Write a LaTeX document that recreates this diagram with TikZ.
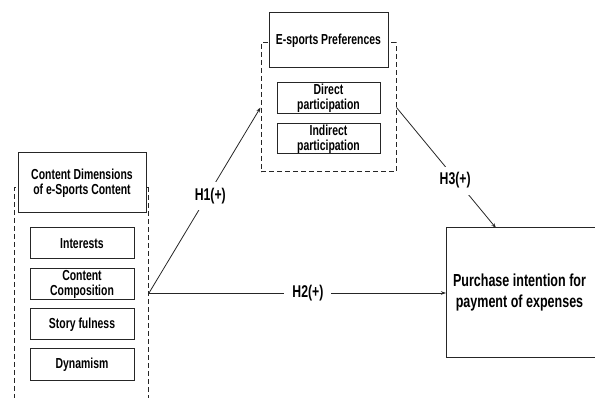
\documentclass[tikz,border=0pt]{standalone}
\usepackage{fontspec}
\setmainfont{Liberation Sans}[FakeStretch=0.72]
\usetikzlibrary{arrows.meta}
\begin{document}
\begin{tikzpicture}[x=1pt,y=-1pt,
  every node/.style={font=\bfseries},
  box/.style={draw=black!85,line width=1pt,fill=white,align=center,inner sep=0pt,
    font=\fontsize{14.5}{15}\selectfont\bfseries},
  group/.style={draw=black!85,line width=1pt,dash pattern=on 5pt off 3pt,inner sep=0pt},
  conn/.style={draw=black!85,line width=0.8pt,-{Stealth[length=5pt,width=3.5pt]}},
  hlab/.style={fill=white,inner xsep=8pt,inner ysep=6pt,font=\fontsize{17}{19}\selectfont\bfseries}]
\useasboundingbox (0,0) rectangle (595,398);
% left group
\node[group,minimum width=134pt,minimum height=230pt] (lgroup) at (81,303) {};
\node[box,minimum width=128pt,minimum height=60pt] (ltitle) at (82,183) {Content Dimensions\\of e-Sports Content};
\node[box,minimum width=104pt,minimum height=31pt] (interests) at (82,243.5) {Interests};
\node[box,minimum width=104pt,minimum height=31pt] (composition) at (82,284.5) {Content\\Composition};
\node[box,minimum width=104pt,minimum height=31pt] (story) at (82,324.5) {Story fulness};
\node[box,minimum width=104pt,minimum height=31pt] (dynamism) at (82,364.5) {Dynamism};
% top group
\node[group,minimum width=135pt,minimum height=129pt] (tgroup) at (328.5,107.5) {};
\node[box,minimum width=119pt,minimum height=55pt] (ttitle) at (328.5,40.5) {E-sports Preferences};
\node[box,minimum width=103pt,minimum height=31pt] (direct) at (328.5,98.5) {Direct\\participation};
\node[box,minimum width=103pt,minimum height=30pt] (indirect) at (328.5,139) {Indirect\\participation};
% outcome
\node[box,minimum width=160pt,minimum height=130pt,anchor=west] (purchase) at (446,293) {};
\node[align=center,inner sep=0pt,font=\fontsize{17.4}{21}\selectfont\bfseries] (ptext) at (519.5,293)
  {Purchase intention for\\payment of expenses};
% connectors
\coordinate (src) at (149,293);
\coordinate (p3) at (496,228);
\draw[conn] (src) -- node[hlab,pos=0.55,yshift=-5pt] {H1(+)} (tgroup.west);
\draw[conn] (src) -- node[hlab,pos=0.535] {H2(+)} (purchase.west);
\draw[conn] (tgroup.east) -- node[hlab,pos=0.59,yshift=-2pt] {H3(+)} (p3);
\end{tikzpicture}
\end{document}
